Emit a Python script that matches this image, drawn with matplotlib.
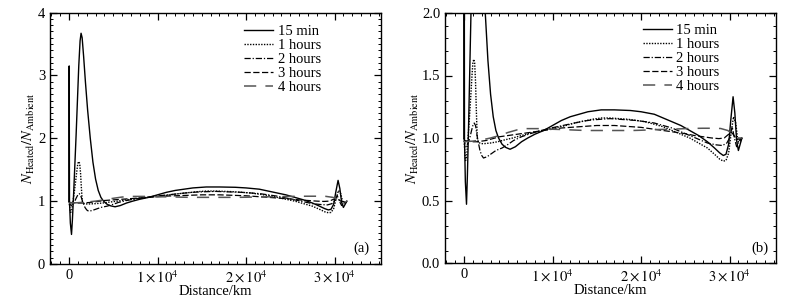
import matplotlib
matplotlib.use("Agg")
import matplotlib.pyplot as plt
from matplotlib.ticker import MultipleLocator, FixedLocator, FormatStrFormatter

plt.rcParams['font.family'] = ['Liberation Serif', 'DejaVu Serif']
plt.rcParams['mathtext.fontset'] = 'stix'

# ---------------- data (distance in km, density ratio) ----------------
x15 = [0, 20, 50, 150, 280, 380, 500, 650, 800, 950, 1100, 1250, 1360, 1480, 1650,
       1850, 2100, 2400, 2700, 3000, 3300, 3600, 3900, 4300, 4700, 5200, 5800, 6500,
       7200, 8000, 9000, 10000, 11000, 12000, 13000, 14000, 15500, 17000, 18800,
       20000, 21500, 22500, 23500, 24500, 25500, 26500, 27500, 28300, 28900, 29300,
       29600, 29900, 30150, 30400, 30600, 30800, 31000, 31200, 31400]
y15 = [1.0, 3.15, 1.0, 0.65, 0.47, 0.7, 1.05, 1.55, 2.05, 2.6, 3.15, 3.55, 3.67,
       3.6, 3.3, 2.9, 2.45, 2.0, 1.62, 1.35, 1.17, 1.06, 1.0, 0.95, 0.925, 0.91,
       0.93, 0.97, 1.0, 1.03, 1.06, 1.1, 1.14, 1.17, 1.19, 1.21, 1.225, 1.225, 1.22,
       1.21, 1.19, 1.16, 1.13, 1.1, 1.06, 1.02, 0.97, 0.92, 0.88, 0.86, 0.87, 0.95,
       1.15, 1.33, 1.2, 0.98, 0.90, 0.95, 1.0]

x1h = [0, 80, 180, 300, 450, 600, 750, 900, 1000, 1100, 1200, 1300, 1400, 1500,
       1650, 1900, 2300, 3000, 3800, 4600, 5500, 6500, 7500, 8500, 9500, 10500,
       11500, 12500, 13500, 14500, 15500, 16500, 17500, 18500, 19500, 20500, 21500,
       22500, 23500, 24500, 25500, 26500, 27500, 28300, 28900, 29300, 29600, 29900,
       30200, 30450, 30700, 30950, 31200, 31400]
y1h = [1.0, 0.9, 0.82, 0.85, 1.0, 1.15, 1.32, 1.5, 1.6, 1.63, 1.6, 1.45, 1.2, 0.99,
       0.965, 0.955, 0.955, 0.96, 0.97, 0.985, 1.0, 1.02, 1.04, 1.055, 1.07, 1.085,
       1.1, 1.12, 1.135, 1.15, 1.16, 1.16, 1.155, 1.15, 1.14, 1.13, 1.11, 1.09,
       1.06, 1.03, 1.0, 0.96, 0.92, 0.87, 0.83, 0.815, 0.82, 0.88, 1.05, 1.17, 1.12,
       0.97, 0.97, 1.0]

x2h = [0, 100, 250, 450, 650, 850, 1000, 1150, 1300, 1450, 1600, 1800, 2000, 2200,
       2600, 3000, 3600, 4300, 5000, 5600, 6500, 7500, 8500, 9500, 10500, 11500,
       12500, 13500, 14500, 15500, 16500, 17500, 18500, 19500, 20500, 21500, 22500,
       23500, 24500, 25500, 26500, 27500, 28500, 29200, 29700, 30000, 30300, 30550,
       30800, 31100, 31400]
y2h = [1.0, 0.95, 0.93, 0.96, 1.0, 1.06, 1.1, 1.12, 1.1, 1.03, 0.97, 0.9, 0.86,
       0.84, 0.85, 0.87, 0.9, 0.92, 0.95, 0.98, 1.01, 1.035, 1.055, 1.075, 1.09,
       1.105, 1.12, 1.135, 1.145, 1.15, 1.155, 1.15, 1.145, 1.14, 1.13, 1.12, 1.1,
       1.08, 1.05, 1.02, 0.99, 0.96, 0.945, 0.94, 0.96, 1.0, 1.09, 1.0, 0.93, 0.98,
       1.0]

x3h = [0, 500, 1000, 1500, 2000, 2500, 3000, 3500, 4000, 5000, 6000, 7000, 8000,
       9000, 10000, 11000, 12000, 13000, 14000, 15000, 16000, 17000, 18000, 19000,
       20000, 21000, 22000, 23000, 24000, 25000, 26000, 27000, 28000, 28800, 29400,
       29900, 30300, 30700, 31100, 31400]
y3h = [0.98, 0.975, 0.97, 0.97, 0.975, 0.98, 0.99, 1.0, 1.01, 1.02, 1.03, 1.04,
       1.05, 1.06, 1.07, 1.08, 1.085, 1.09, 1.095, 1.1, 1.1, 1.1, 1.095, 1.09,
       1.085, 1.075, 1.065, 1.055, 1.045, 1.035, 1.02, 1.01, 1.0, 0.995, 1.0, 1.03,
       1.04, 1.0, 0.99, 1.0]

x4h = [0, 1000, 2000, 3000, 4000, 5000, 6000, 7000, 8000, 9000, 10000, 11000,
       12000, 13000, 14000, 15000, 16000, 17000, 18000, 19000, 20000, 21000, 22000,
       23000, 24000, 25000, 26000, 27000, 28000, 29000, 29800, 30400, 31000, 31400]
y4h = [0.97, 0.975, 0.985, 1.0, 1.02, 1.045, 1.065, 1.075, 1.075, 1.075, 1.07,
       1.068, 1.065, 1.062, 1.06, 1.06, 1.06, 1.06, 1.06, 1.06, 1.062, 1.065, 1.068,
       1.07, 1.072, 1.075, 1.077, 1.078, 1.078, 1.076, 1.06, 1.03, 1.0, 1.0]

labels = ["15 min", "1 hours", "2 hours", "3 hours", "4 hours"]
xticks = [0, 10000, 20000, 30000]
xticklabels = ["0", r"$1\times10^4$", r"$2\times10^4$", r"$3\times10^4$"]
panel_tags = ["(a)", "(b)"]

series = [(x15, y15), (x1h, y1h), (x2h, y2h), (x3h, y3h), (x4h, y4h)]
styles = [dict(color="black", ls="-", lw=1.0),
          dict(color="black", ls=(0, (1, 1)), lw=1.0),
          dict(color="black", ls=(0, (5, 1.5, 1, 1.5)), lw=0.9),
          dict(color="black", ls=(0, (5, 2)), lw=0.9),
          dict(color="#555555", ls=(0, (8, 6)), lw=1.1)]

fig = plt.figure(figsize=(8.08, 3.02), dpi=100)
ax_a = fig.add_axes([50/808, 1-264/302, 331/808, 251.5/302])
ax_b = fig.add_axes([445/808, 1-263/302, 331/808, 250/302])

configs = [
    dict(ax=ax_a, ylim=(0, 4), major=1, minor=0.1, fmt="%d", leg=(0.586, 0.95), tag=(0.942, 0.062)),
    dict(ax=ax_b, ylim=(0, 2.0), major=0.5, minor=0.1, fmt="%.1f", leg=(0.597, 0.956), tag=(0.952, 0.059)),
]

for cfg, tag in zip(configs, panel_tags):
    ax = cfg["ax"]
    for (xs, ys), st, lab in zip(series, styles, labels):
        ax.plot(xs, ys, label=lab, **st)
    ax.set_xlim(-2150, 35250)
    ax.set_ylim(*cfg["ylim"])
    ax.xaxis.set_major_locator(FixedLocator(xticks))
    ax.set_xticklabels(xticklabels)
    ax.xaxis.set_minor_locator(MultipleLocator(1000))
    ax.yaxis.set_major_locator(MultipleLocator(cfg["major"]))
    ax.yaxis.set_minor_locator(MultipleLocator(cfg["minor"]))
    ax.yaxis.set_major_formatter(FormatStrFormatter(cfg["fmt"]))
    ax.tick_params(which="both", direction="in", top=True, right=True, labelsize=10.5)
    ax.tick_params(which="major", length=5, width=0.9)
    ax.tick_params(which="minor", length=2.5, width=0.7)
    for sp in ax.spines.values():
        sp.set_linewidth(1.0)
    ax.set_xlabel("Distance/km", fontsize=10.5, labelpad=0)
    ax.set_ylabel(r"$N_{\mathrm{Heated}}/N_{\mathrm{Ambient}}$", fontsize=10.5, labelpad=0.5)
    ax.legend(loc="upper left", bbox_to_anchor=cfg["leg"], frameon=False,
              fontsize=10.5, handlelength=2.0, handletextpad=0.3,
              labelspacing=0.05, borderpad=0, borderaxespad=0)
    ax.text(cfg["tag"][0], cfg["tag"][1], tag, transform=ax.transAxes,
            ha="center", va="center", fontsize=10.5)

fig.savefig("out.png", dpi=100)
